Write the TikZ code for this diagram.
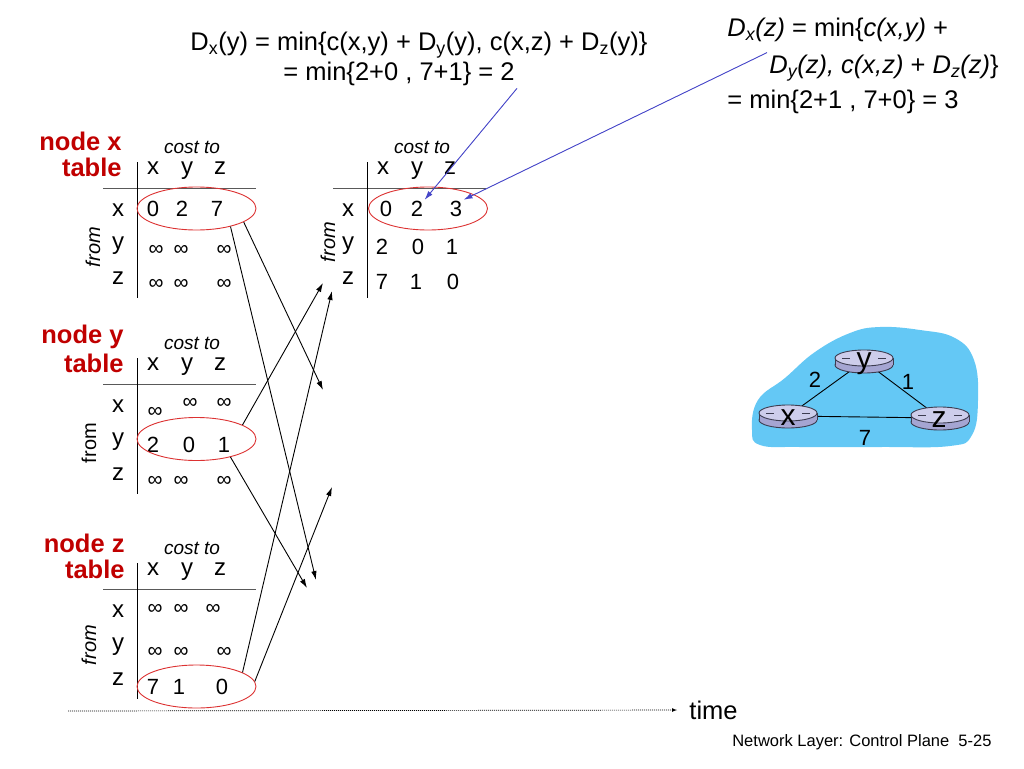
\documentclass[tikz,border=0pt]{standalone}
\usepackage{fontspec}
\setmainfont{Liberation Sans}
\usepackage{tikz}
\usetikzlibrary{shapes.geometric, arrows.meta}
\definecolor{nodered}{RGB}{192,0,0}
\definecolor{ringred}{RGB}{220,50,50}
\definecolor{hintblue}{RGB}{70,70,200}
\definecolor{cloudblue}{RGB}{100,200,245}
\definecolor{routertop}{RGB}{205,205,235}
\definecolor{routerside}{RGB}{165,165,210}
\definecolor{routerline}{RGB}{60,60,80}
\tikzset{router/.pic={
  \fill[routerside, draw=routerline] (0,4) ellipse [x radius=29, y radius=8];
  \fill[routerside] (-29,-3) rectangle (29,4);
  \draw[routerline] (-29,-3) -- (-29,4) (29,-3) -- (29,4);
  \filldraw[fill=routertop, draw=routerline] (0,-3) ellipse [x radius=29, y radius=8];
  \draw[routerline, thick] (-22,-3) -- (-14,-3) (14,-3) -- (22,-3);
}}

\begin{document}
\begin{tikzpicture}[x=1pt, y=-1pt, line width=0.9pt,
  formula/.style = {font=\fontsize{25.5}{30}\selectfont, inner sep=2pt},
  lbl/.style = {font=\fontsize{24}{28}\selectfont, inner sep=1pt},
  val/.style = {font=\fontsize{22}{26}\selectfont, inner sep=1pt},
  inf/.style = {font=\fontsize{21}{24}\selectfont, inner sep=1pt},
  costto/.style = {font=\itshape\fontsize{19}{22}\selectfont},
  fromlbl/.style = {font=\itshape\fontsize{20}{24}\selectfont, rotate=90},
  tname/.style = {font=\bfseries\fontsize{25.5}{30}\selectfont, text=nodered, anchor=east, inner sep=0pt},
  ring/.style = {ellipse, draw=ringred, minimum width=119, minimum height=43, inner sep=0pt},
  rule/.style = {draw=black!65},
  upd/.style = {-{Latex[length=9pt, width=5.5pt]}},
  hint/.style = {-{Latex[length=9pt, width=5.5pt]}, draw=hintblue, fill=hintblue}]
  \useasboundingbox (0,0) rectangle (1024,768);

  \node[formula, anchor=west] (fa1) at (188,45) {D\textsubscript{x}(y) = min\{c(x,y) + D\textsubscript{y}(y), c(x,z) + D\textsubscript{z}(y)\}};
  \node[formula, anchor=west] (fa2) at (281,74) {= min\{2+0 , 7+1\} = 2};
  \node[formula, anchor=west] (fb1) at (725,30) {\textit{D\textsubscript{x}(z)} = min\{\textit{c(x,y)} +};
  \node[formula, anchor=west] (fb2) at (767,68) {\textit{D\textsubscript{y}(z), c(x,z)} + \textit{D\textsubscript{z}(z)}\}};
  \node[formula, anchor=west] (fb3) at (725,102) {= min\{2+1 , 7+0\} = 3};

  \node[tname] (xname) at (122,141) {node x};
  \node[tname] (xtable) at (122,167) {table};
  \node[tname] (yname) at (124,337) {node y};
  \node[tname] (ytable) at (124,363) {table};
  \node[tname] (zname) at (125,543) {node z};
  \node[tname] (ztable) at (125,569) {table};

  \foreach \t/\dx/\dy in {xa/0/0, xb/230/0, ya/0/196, za/0/401}
  {
  \begin{scope}[shift={(\dx,\dy)}]
    \node[costto] (\t-cost) at (192,147) {cost to};
    \node[lbl] (\t-hx) at (153,168) {x};
    \node[lbl] (\t-hy) at (187,171) {y};
    \node[lbl] (\t-hz) at (220,168) {z};
    \node[lbl] (\t-rx) at (118,210) {x};
    \node[lbl] (\t-ry) at (118,246) {y};
    \node[lbl] (\t-rz) at (118,278) {z};
    \draw[rule] (103,188) -- (256,188);
    \draw (137,162) -- (137,298);
  \end{scope}
  }
  \node[fromlbl] (xa-from) at (93,247) {from};
  \node[fromlbl] (xb-from) at (328,242) {from};
  \node[fromlbl, font=\fontsize{20}{24}\selectfont] (ya-from) at (89,443) {from};
  \node[fromlbl] (za-from) at (89,645) {from};

  \node[val] (xa-xx) at (153,209) {0};
  \node[val] (xa-xy) at (182,209) {2};
  \node[val] (xa-xz) at (217,209) {7};
  \node[inf] (xa-yx) at (156,250) {∞};
  \node[inf] (xa-yy) at (181,250) {∞};
  \node[inf] (xa-yz) at (224,250) {∞};
  \node[inf] (xa-zx) at (156,284) {∞};
  \node[inf] (xa-zy) at (181,284) {∞};
  \node[inf] (xa-zz) at (224,284) {∞};

  \node[val] (xb-xx) at (386,209) {0};
  \node[val] (xb-xy) at (417,209) {2};
  \node[val] (xb-xz) at (456,209) {3};
  \node[val] (xb-yx) at (382,247) {2};
  \node[val] (xb-yy) at (418,247) {0};
  \node[val] (xb-yz) at (452,247) {1};
  \node[val] (xb-zx) at (382,282) {7};
  \node[val] (xb-zy) at (416,282) {1};
  \node[val] (xb-zz) at (453,282) {0};

  \node[inf] (ya-xx) at (155,412) {∞};
  \node[inf] (ya-xy) at (190,403) {∞};
  \node[inf] (ya-xz) at (224,403) {∞};
  \node[val] (ya-yx) at (153,445) {2};
  \node[val] (ya-yy) at (189,445) {0};
  \node[val] (ya-yz) at (224,445) {1};
  \node[inf] (ya-zx) at (155,481) {∞};
  \node[inf] (ya-zy) at (181,481) {∞};
  \node[inf] (ya-zz) at (224,481) {∞};

  \node[inf] (za-xx) at (155,609) {∞};
  \node[inf] (za-xy) at (181,609) {∞};
  \node[inf] (za-xz) at (213,609) {∞};
  \node[inf] (za-yx) at (155,652) {∞};
  \node[inf] (za-yy) at (181,652) {∞};
  \node[inf] (za-yz) at (224,652) {∞};
  \node[val] (za-zx) at (153,687) {7};
  \node[val] (za-zy) at (179,687) {1};
  \node[val] (za-zz) at (222,687) {0};

  \node[ring] (xa-ring) at (196.5,208.5) {};
  \node[ring] (xb-ring) at (428,208.5) {};
  \node[ring] (ya-ring) at (196.5,439) {};
  \node[ring] (za-ring) at (196.5,686.5) {};

  \coordinate (xy-in) at (323,390);
  \coordinate (xz-in) at (316,580);
  \coordinate (yx-in) at (323,283);
  \coordinate (yz-in) at (307,588);
  \coordinate (zx-in) at (332,291);
  \coordinate (zy-in) at (332,487);
  \draw[upd] (xa-ring.-16) -- (xy-in);
  \draw[upd] (xa-ring.-28) -- (xz-in);
  \draw[upd] (ya-ring.17) -- (yx-in);
  \draw[upd] (ya-ring.-28) -- (yz-in);
  \draw[upd] (za-ring.17) -- (zx-in);
  \draw[upd] (za-ring.5) -- (zy-in);

  \draw[hint] (fa2.south east) -- (xb-xy.north east);
  \draw[hint] (fb2.north west) -- (xb-xz.north east);

  \coordinate (tl) at (68,711);
  \node[formula, anchor=west] (time) at (687,710) {time};
  \draw[-latex, dash pattern=on 1pt off 1pt, line width=0.7pt, shorten >=10pt] (tl) -- (time.west);
  \node[font=\fontsize{16.5}{20}\selectfont, anchor=east, inner sep=0pt] (footer) at (992,742) {Network Layer: Control Plane\ \ 5-25};

  \fill[cloudblue] plot[smooth cycle, tension=0.7] coordinates {(752,430) (758,400) (785,378) (815,352) (850,333) (880,327) (920,330) (955,338) (974,360) (978,400) (972,435) (950,446) (880,447) (800,447) (760,445)};
  \coordinate (rx) at (788,416);
  \coordinate (ry) at (864,361);
  \coordinate (rz) at (940,418);
  \draw (rx) -- (ry) -- (rz) -- (rx);
  \pic at (rx) {router};
  \pic at (ry) {router};
  \pic at (rz) {router};
  \node[font=\fontsize{30}{34}\selectfont, inner sep=0pt] (lx) at (788,418) {x};
  \node[font=\fontsize{30}{34}\selectfont, inner sep=0pt] (ly) at (864,364) {y};
  \node[font=\fontsize{30}{34}\selectfont, inner sep=0pt] (lz) at (939,420) {z};
  \node[val] (cxy) at (815,380) {2};
  \node[val] (cyz) at (908,382) {1};
  \node[val] (cxz) at (865,438) {7};
\end{tikzpicture}
\end{document}
